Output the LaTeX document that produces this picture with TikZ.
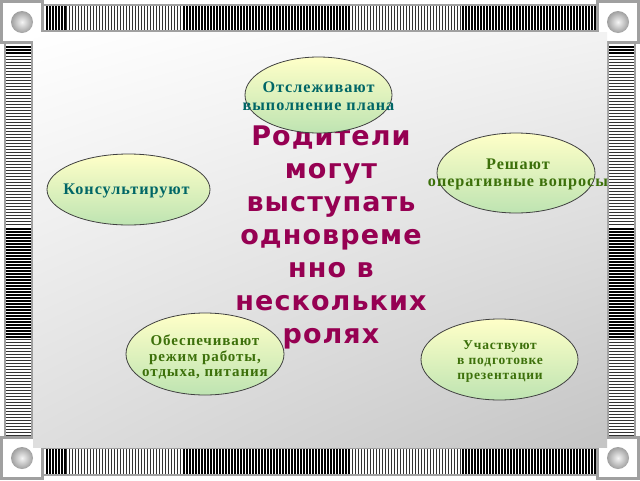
\documentclass[tikz,border=0pt]{standalone}
\usepackage{fontspec}
\setmainfont{Liberation Serif}
\newfontfamily\ellfont[LetterSpace=6]{Liberation Serif}
\newfontfamily\bigfont[LetterSpace=4]{DejaVu Sans}
\usetikzlibrary{shapes.geometric,shadings}
\definecolor{ellTop}{RGB}{255,255,200}
\definecolor{ellBot}{RGB}{190,228,178}
\definecolor{tealtxt}{RGB}{0,102,102}
\definecolor{greentxt}{RGB}{60,112,10}
\definecolor{bigtxt}{RGB}{150,0,82}
\definecolor{frameGray}{RGB}{160,160,160}
\tikzset{
  ell/.style={ellipse, draw=black!75, line width=0.8pt, top color=ellTop, bottom color=ellBot, inner sep=0pt, outer sep=0pt},
  elltxt/.style={align=center, inner sep=0pt},
  bigtext/.style={align=center, inner sep=0pt, text=bigtxt, font=\bigfont\bfseries\fontsize{27}{33}\selectfont},
  cornerbox/.style={fill=white, draw=frameGray, line width=3pt},
  ballshade/.style={inner color=gray!8, outer color=gray!75},
}
\begin{document}
\begin{tikzpicture}[x=1pt,y=-1pt]
\useasboundingbox (0,0) rectangle (640,480);
\fill[white] (0,0) rectangle (640,480);
% frames of the strips
\fill[frameGray] (44,4) rectangle (596,32);
\fill[frameGray] (44,447) rectangle (596,476);
\fill[frameGray] (4,44) rectangle (33,436);
\fill[frameGray] (607,44) rectangle (636,436);
\fill[white] (44,6) rectangle (596,30);
\fill[white] (44,449) rectangle (596,474);
\fill[white] (6,44) rectangle (31,436);
\fill[white] (609,44) rectangle (634,436);
% vertical stripes (top and bottom)
\foreach \a/\b/\w/\c in {45/65/2/black, 65/182/0.9/black!80, 182/351/2/black, 351/461/0.9/black!80, 461/596/2/black} {
  \pgfmathsetmacro\sa{\a+1.5}
  \pgfmathsetmacro\sb{\a+4.5}
  \foreach \x in {\sa,\sb,...,\b} {
    \draw[line width=\w pt, draw=\c] (\x,6) -- (\x,30);
    \draw[line width=\w pt, draw=\c] (\x,449) -- (\x,474);
  }
}
% horizontal stripes (left and right)
\foreach \a/\b/\w/\c in {45/55/2/black, 55/227/0.9/black!80, 227/338/2/black, 338/436/0.9/black!80} {
  \pgfmathsetmacro\sa{\a+1.5}
  \pgfmathsetmacro\sb{\a+4.5}
  \foreach \y in {\sa,\sb,...,\b} {
    \draw[line width=\w pt, draw=\c] (6,\y) -- (31,\y);
    \draw[line width=\w pt, draw=\c] (609,\y) -- (634,\y);
  }
}
% corner squares
\draw[cornerbox] (1.5,1.5) rectangle (42.5,42.5);
\draw[cornerbox] (597.5,1.5) rectangle (638.5,42.5);
\draw[cornerbox] (1.5,437.5) rectangle (42.5,478.5);
\draw[cornerbox] (597.5,437.5) rectangle (638.5,478.5);
\shade[ballshade] (22,22) circle (11);
\shade[ballshade] (618,22) circle (11);
\shade[ballshade] (22,458) circle (11);
\shade[ballshade] (618,458) circle (11);
% panel
\shade[upper left=white, upper right=gray!10, lower left=gray!26, lower right=gray!46] (33,32) rectangle (607,447);
% central text
\node[bigtext] (main) at (331,237.4) {Родители\\могут\\выступать\\одновреме\\нно в\\нескольких\\ролях};
% ellipses
\node[ell, minimum width=147pt, minimum height=76pt] (e1) at (318.5,95) {};
\node[ell, minimum width=163pt, minimum height=71pt] (e2) at (128.5,189.5) {};
\node[ell, minimum width=158pt, minimum height=80pt] (e3) at (516,173) {};
\node[ell, minimum width=158pt, minimum height=82pt] (e4) at (205,354) {};
\node[ell, minimum width=157pt, minimum height=81pt] (e5) at (499.5,359.5) {};
% ellipse texts
\node[elltxt, text=tealtxt, font=\ellfont\bfseries\fontsize{16.2}{18}\selectfont] (t1) at (318.5,96.5) {Отслеживают\\выполнение плана};
\node[elltxt, text=tealtxt, font=\ellfont\bfseries\fontsize{16.2}{18}\selectfont] (t2) at (126.5,191.3) {Консультируют};
\node[elltxt, text=greentxt, font=\ellfont\bfseries\fontsize{16.2}{17}\selectfont] (t3) at (518,174.8) {Решают\\оперативные вопросы};
\node[elltxt, text=greentxt, font=\ellfont\bfseries\fontsize{15}{15.5}\selectfont] (t4) at (205,357) {Обеспечивают\\режим работы,\\отдыха, питания};
\node[elltxt, text=greentxt, font=\ellfont\bfseries\fontsize{13.5}{15}\selectfont] (t5) at (500,361.8) {Участвуют\\в подготовке\\презентации};
\end{tikzpicture}
\end{document}
